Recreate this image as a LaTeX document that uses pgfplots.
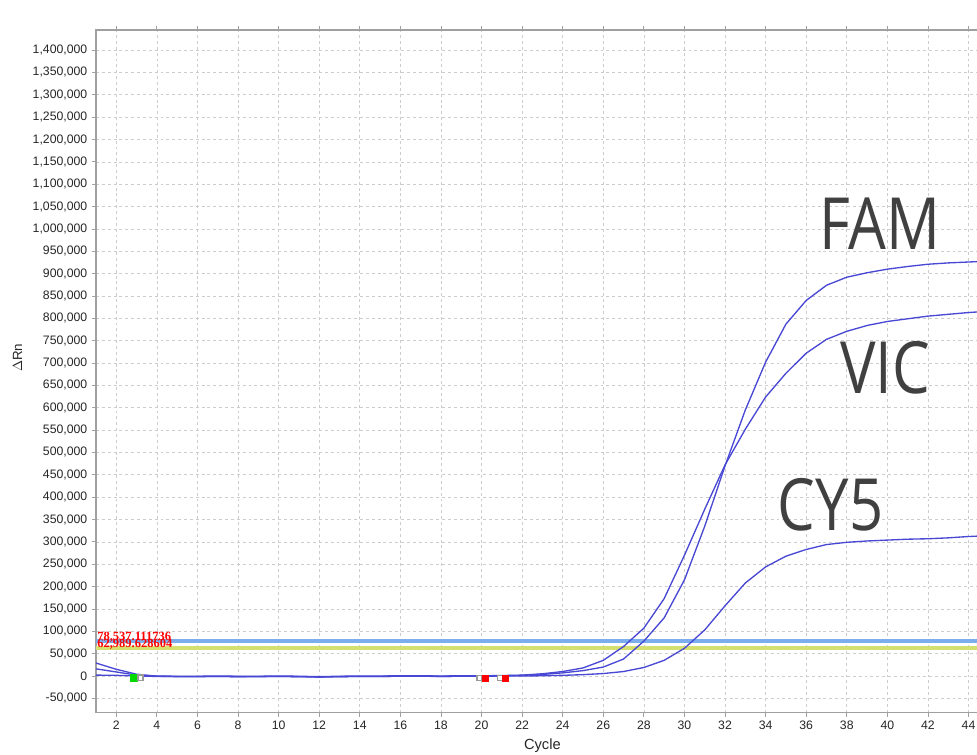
\documentclass[border=0pt]{standalone}
\usepackage{fontspec}
\setmainfont{Liberation Sans}
\newfontfamily\bigfont{Open Sans}
\newfontfamily\thrfont{Liberation Serif}
\usepackage{pgfplots}
\usepackage{pgfplotstable}
\pgfplotsset{compat=1.18}

\definecolor{curve}{RGB}{72,72,212}
\definecolor{thrblue}{RGB}{124,174,238}
\definecolor{thryel}{RGB}{214,224,112}
\definecolor{tagtext}{RGB}{64,64,64}
\definecolor{axgray}{RGB}{160,160,160}

% cycle, FAM, VIC, CY5 (delta Rn)
\pgfplotstableread{
cyc fam vic cy5
1  29000  16000  2000
2  15000   9000  1500
3   4000   2000     0
4   -500      0 -1000
5  -1500   -500 -1000
6  -1500   -500 -1000
7  -1000      0 -1000
8  -1500   -500 -1500
9  -1500   -500 -1000
10 -1000      0 -1000
11 -1500   -500 -1500
12 -2500  -1500 -2000
13 -1500   -500 -1500
14 -1000      0 -1000
15 -1000      0 -1000
16  -500    500  -500
17     0    500  -500
18 -1000      0 -1000
19  -500    500  -500
20     0    500  -500
21   500   1000     0
22  1500   2000     0
23  3500   5000   500
24  7000  10000  1500
25 12000  18000  3000
26 20000  35000  5500
27 38000  66000 10000
28 78000 107000 19000
29 130000 173000 35000
30 215000 270000 62000
31 335000 373000 103000
32 470000 472000 157000
33 595000 552000 208000
34 702000 624000 244000
35 787000 677000 268000
36 840000 722000 283000
37 874000 753000 294000
38 892000 771000 299000
39 902000 784000 302000
40 910000 793000 304000
41 916000 799000 306000
42 921000 805000 307000
43 924000 809000 309000
44 926000 813000 312000
45 928000 816000 314000
}\ampdata

\begin{document}
\begin{tikzpicture}
\path[use as bounding box] (-72pt,-31.7pt) rectangle (660.75pt,534.5pt);
\begin{axis}[
  at={(0,0)}, anchor=south west,
  scale only axis, width=669.6pt, height=512pt,
  xmin=1, xmax=45, ymin=-82000, ymax=1445000,
  xtick={2,4,...,44},
  ytick={-50000,0,...,1400000},
  scaled y ticks=false,
  /pgf/number format/.cd, fixed, 1000 sep={,}, assume math mode=true,
  /pgfplots/.cd,
  tick label style={font=\fontsize{9.2}{11}\selectfont, text=black!85},
  tick align=outside, major tick length=3pt,
  tick style={axgray, line width=0.6pt},
  axis line style={axgray, line width=0.8pt},
  grid=major,
  major grid style={gray!40, line width=0.5pt, dash pattern=on 2.2pt off 2.2pt},
  xlabel={Cycle},
  ylabel={$\Delta$Rn},
  xlabel style={font=\fontsize{11}{13}\selectfont, text=black!85,
    at={(axis description cs:0.5,-0.048)}, anchor=center},
  ylabel style={font=\fontsize{10}{12}\selectfont, text=black!85,
    at={(axis description cs:-0.088,0.52)}, anchor=center, rotate=0},
  clip=true,
]
% thresholds
\addplot[thrblue, line width=2.6pt] coordinates {(1,78537) (45,78537)};
\addplot[thryel, line width=3pt] coordinates {(1,62989) (45,62989)};
% curves
\addplot[curve, line width=1pt] table[x=cyc, y=fam] {\ampdata};
\addplot[curve, line width=1pt] table[x=cyc, y=vic] {\ampdata};
\addplot[curve, line width=1pt] table[x=cyc, y=cy5] {\ampdata};
% baseline markers
\addplot[only marks, mark=square*, mark size=2.8pt, mark options={fill=green!85!black, draw=green!85!black}] coordinates {(2.87,-3500)};
\addplot[only marks, mark=square*, mark size=1.9pt, mark options={fill=white, draw=gray!80, line width=0.9pt}] coordinates {(3.19,-3500) (19.9,-4500) (20.93,-4500)};
\addplot[only marks, mark=square*, mark size=2.2pt, mark options={fill=red, draw=red}] coordinates {(20.2,-4500) (21.18,-4500)};
% threshold values
\node[anchor=base west, inner sep=0pt, text=red, font=\thrfont\bfseries\fontsize{9.4}{10}\selectfont] at (axis cs:1.05,79500) {78,537.111736};
\node[anchor=base west, inner sep=0pt, text=red, font=\thrfont\bfseries\fontsize{9.4}{10}\selectfont] at (axis cs:1.05,64000) {62,989.628604};
% dye tags
\node[text=tagtext, font=\bigfont\fontsize{54}{60}\selectfont, xscale=0.83] at (axis cs:39.64,1011000) {FAM};
\node[text=tagtext, font=\bigfont\fontsize{54}{60}\selectfont, xscale=0.83] at (axis cs:39.9,689000) {VIC};
\node[text=tagtext, font=\bigfont\fontsize{54}{60}\selectfont, xscale=0.83] at (axis cs:37.2,382500) {CY5};
% title
\node[font=\fontsize{10}{12}\selectfont, text=black!85] at (axis description cs:0.447,1.022) {Amplification Plot};
\end{axis}
\end{tikzpicture}
\end{document}
